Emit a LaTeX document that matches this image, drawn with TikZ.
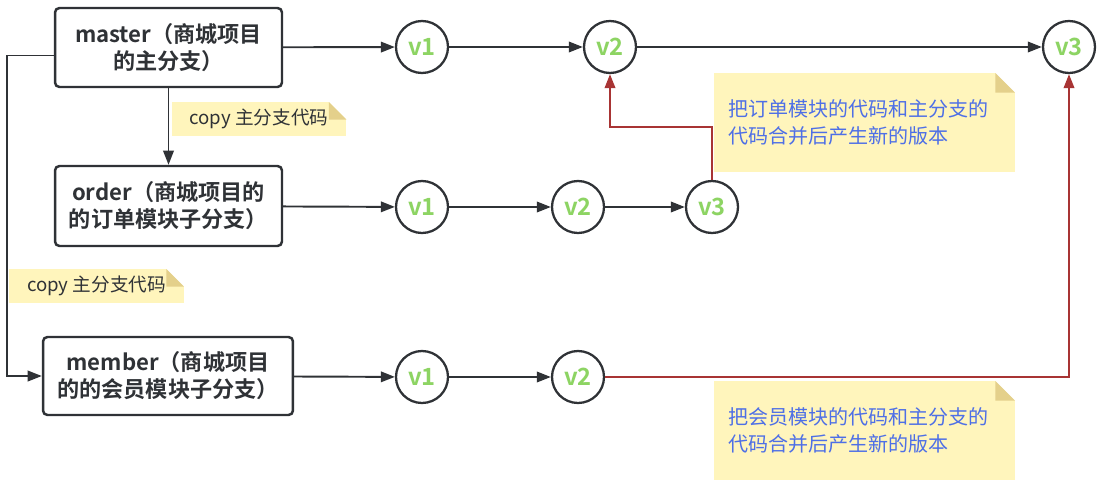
\documentclass[tikz,border=0pt]{standalone}
\usepackage{fontspec}
\setmainfont{Noto Sans CJK SC}[BoldFont={Noto Sans CJK SC Bold}]
\usetikzlibrary{arrows.meta}

\definecolor{inkgray}{HTML}{2F3236}
\definecolor{vergreen}{HTML}{8DD463}
\definecolor{mergered}{HTML}{A83434}
\definecolor{notefill}{HTML}{FFF5BC}
\definecolor{notefold}{HTML}{E4D08B}
\definecolor{noteblue}{HTML}{4E6FE6}

\tikzset{
    branch/.style={draw=inkgray, line width=1.4pt, rounded corners=2.5pt, fill=white,
        align=center, text=inkgray, font=\fontsize{12.6}{15.3}\selectfont\bfseries},
    ver/.style={draw=inkgray, line width=1.3pt, circle, minimum size=1.04cm, inner sep=0pt,
        fill=white, text=vergreen, font=\fontsize{13.5}{15}\selectfont\bfseries},
    link/.style={draw=inkgray, line width=1.1pt, -{Triangle[length=8pt,width=6pt]}},
    merge/.style={draw=mergered, line width=1.2pt, -{Triangle[length=8pt,width=6pt]}},
    note/.style={fill=notefill, inner sep=0pt,
        path picture={
            \fill[white] ([xshift=-#1]path picture bounding box.north east) -- (path picture bounding box.north east) -- ([yshift=-#1]path picture bounding box.north east) -- cycle;
            \fill[notefold] ([xshift=-#1]path picture bounding box.north east) -- ([xshift=-#1,yshift=-#1]path picture bounding box.north east) -- ([yshift=-#1]path picture bounding box.north east) -- cycle;
        }},
    copynote/.style={note=0.35cm, minimum width=3.5cm, minimum height=0.68cm,
        text=inkgray, font=\fontsize{10.6}{12}\selectfont},
    mergenote/.style={note=0.39cm, minimum width=6.02cm, minimum height=1.98cm,
        inner xsep=0.28cm, text width=5.46cm, align=left, text=noteblue,
        font=\fontsize{11.4}{15.3}\selectfont},
}

\begin{document}
\begin{tikzpicture}[x=0.02cm, y=-0.02cm]
    \useasboundingbox (0,0) rectangle (1102,487);

    % notes
    \node[copynote] (copyA) at (259,119) {copy 主分支代码};
    \node[copynote] (copyB) at (96.5,286) {copy 主分支代码};
    \node[mergenote] (noteO) at (864.5,122.5) {把订单模块的代码和主分支的\\代码合并后产生新的版本};
    \node[mergenote] (noteM) at (864.5,430.5) {把会员模块的代码和主分支的\\代码合并后产生新的版本};

    % branches
    \node[branch, minimum width=4.54cm, minimum height=1.58cm] (master) at (168.5,47.5) {master（商城项目\\的主分支）};
    \node[branch, minimum width=4.54cm, minimum height=1.6cm] (order) at (168.5,206) {order（商城项目的\\的订单模块子分支）};
    \node[branch, minimum width=5.0cm, minimum height=1.56cm] (member) at (168,376) {member（商城项目\\的的会员模块子分支）};

    % versions
    \node[ver] (m1) at (422,47) {v1};
    \node[ver] (m2) at (610,47) {v2};
    \node[ver] (m3) at (1069,47) {v3};
    \node[ver] (o1) at (422,207) {v1};
    \node[ver] (o2) at (578,207) {v2};
    \node[ver] (o3) at (712,207) {v3};
    \node[ver] (b1) at (422,377) {v1};
    \node[ver] (b2) at (578,377) {v2};

    % master row
    \draw[link] (master) -- (m1);
    \draw[link] (m1) -- (m2);
    \draw[link] (m2) -- (m3);

    % copies of master
    \draw[link] (master) -- (order);
    \draw[link] ([yshift=-0.16cm]master.west) -- ++(-47,0) |- (member.west);

    % order row
    \draw[link] (order) -- (o1);
    \draw[link] (o1) -- (o2);
    \draw[link] (o2) -- (o3);

    % member row
    \draw[link] (member) -- (b1);
    \draw[link] (b1) -- (b2);

    % merges
    \draw[merge] (o3.north) -- ++(0,-53) -| (m2.south);
    \draw[merge] (b2.east) -| (m3.south);
\end{tikzpicture}
\end{document}
